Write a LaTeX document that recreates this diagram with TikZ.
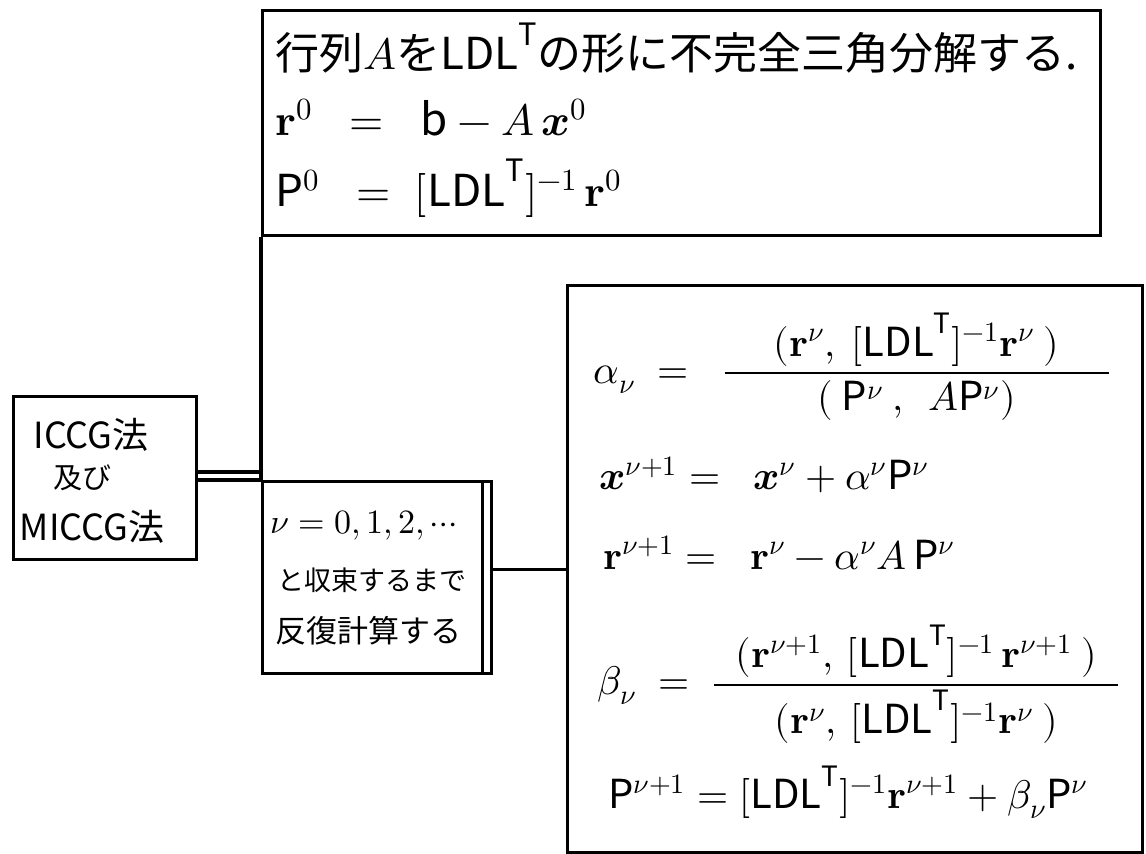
\documentclass[tikz,border=0pt]{standalone}
\usepackage{fontspec}
\usepackage{unicode-math}
\setmainfont{Noto Sans CJK JP}
\setmathfont{Latin Modern Math}
\tikzset{
  box/.style={draw, line width=1.6pt, inner sep=0pt, anchor=north west},
  txt/.style={inner sep=0pt, anchor=west},
  ctxt/.style={inner sep=0pt, anchor=center},
  conn/.style={line width=1.6pt},
  big/.style={font=\fontsize{22}{26}\selectfont},
  eq/.style={font=\fontsize{20}{24}\selectfont},
  lbl/.style={font=\fontsize{18}{22}\selectfont},
  small/.style={font=\fontsize{13.5}{17}\selectfont}
}
\begin{document}
\begin{tikzpicture}[x=0.5pt,y=-0.5pt]
\useasboundingbox (0,0) rectangle (1146,853);
% boxes
\node[box, minimum width=419pt, minimum height=112.5pt] (top) at (261,9) {};
\node[box, minimum width=91.5pt, minimum height=81.5pt] (iccg) at (12,395) {};
\node[box, minimum width=114.5pt, minimum height=96pt] (loop) at (261,480) {};
\node[box, minimum width=287.5pt, minimum height=283.5pt] (right) at (566,284) {};
% connectors
\coordinate (j1) at (261,472);
\draw[conn] (top.south west) -- (loop.north west);
\draw[conn] (iccg.east |- j1) -- (j1);
\draw[conn] (iccg.east |- loop.north) -- (loop.north west);
\draw[conn] ([xshift=-5.5pt]loop.north east) -- ([xshift=-5.5pt]loop.south east);
\draw[conn] (right.west -| loop.east) -- (right.west);
% top box text
\node[txt, big] (t1) at (275,48) {行列$A$を$\mathrm{LDL}^{\mathrm{T}}$の形に不完全三角分解する.};
\node[txt, big] (t2) at (275,118) {$\symbfup{r}^{0}\;\;=\;\;\mathrm{b}-A\,\symbfit{x}^{0}$};
\node[txt, big] (t3) at (275,188) {$\mathrm{P}^{0}\;\;=\;[\mathrm{LDL}^{\mathrm{T}}]^{-1}\,\symbfup{r}^{0}$};
% ICCG box text
\node[ctxt, lbl] (i1) at (91,435) {ICCG法};
\node[ctxt, font=\fontsize{14.5}{18}\selectfont] (i2) at (83,478) {及び};
\node[ctxt, lbl] (i3) at (92,527) {MICCG法};
% loop box text
\node[txt, font=\fontsize{17}{20}\selectfont] (l1) at (270,525) {$\nu=0,1,2,\cdots$};
\node[txt, small] (l2) at (277,580) {と収束するまで};
\node[txt, font=\fontsize{15.5}{19}\selectfont] (l3) at (275,631) {反復計算する};
% right box equations
\node[txt, eq] (ea) at (593,367) {$\alpha_{\nu}\;=\;\;\dfrac{\makebox[192pt]{$(\symbfup{r}^{\nu},\ [\mathrm{LDL}^{\mathrm{T}}]^{-1}\symbfup{r}^{\nu}\ )$}}{(\ \mathrm{P}^{\nu}\ ,\ \ A\mathrm{P}^{\nu})}$};
\node[txt, eq] (ex) at (599,475) {$\symbfit{x}^{\nu+1}=\;\;\symbfit{x}^{\nu}+\alpha^{\nu}\mathrm{P}^{\nu}$};
\node[txt, eq] (er) at (603,553) {$\symbfup{r}^{\nu+1}=\;\;\symbfup{r}^{\nu}-\alpha^{\nu}A\,\mathrm{P}^{\nu}$};
\node[txt, eq] (eb) at (597,684) {$\beta_{\nu}\;=\;\dfrac{\makebox[202pt]{$(\symbfup{r}^{\nu+1},\,[\mathrm{LDL}^{\mathrm{T}}]^{-1}\,\symbfup{r}^{\nu+1}\ )$}}{(\symbfup{r}^{\nu},\,[\mathrm{LDL}^{\mathrm{T}}]^{-1}\symbfup{r}^{\nu}\ )}$};
\node[txt, eq] (ep) at (608,792) {$\mathrm{P}^{\nu+1}=[\mathrm{LDL}^{\mathrm{T}}]^{-1}\symbfup{r}^{\nu+1}+\beta_{\nu}\mathrm{P}^{\nu}$};
\end{tikzpicture}
\end{document}
